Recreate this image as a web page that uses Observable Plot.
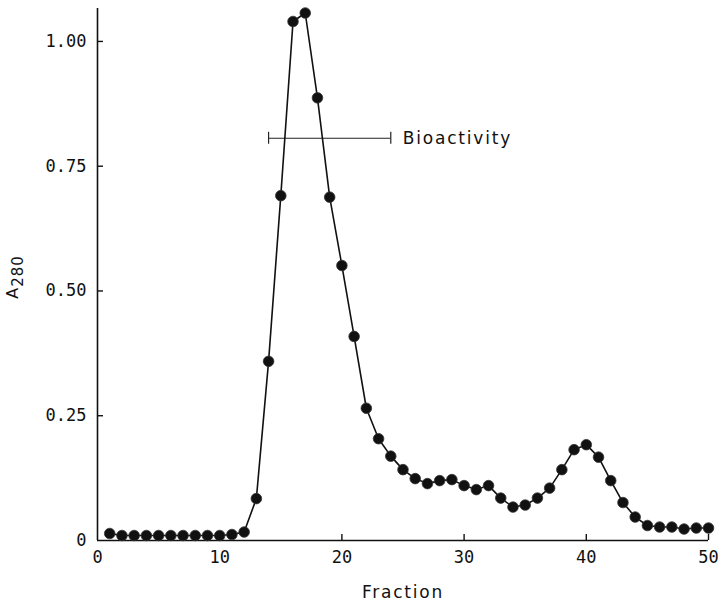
<!DOCTYPE html>
<html>
<head>
<meta charset="utf-8">
<script src="https://cdn.jsdelivr.net/npm/d3@7"></script>
<script src="https://cdn.jsdelivr.net/npm/@observablehq/plot@0.6"></script>
<style>
  html, body { margin: 0; padding: 0; background: #fff; }
  #chart svg { display: block; }
</style>
</head>
<body>
<div id="chart"></div>
<script>
const fractions = d3.range(1, 51);
const absorbance = [0.014, 0.010, 0.010, 0.010, 0.010, 0.010, 0.010, 0.010, 0.010, 0.010,
  0.012, 0.017, 0.084, 0.359, 0.691, 1.040, 1.057, 0.887, 0.688, 0.551,
  0.409, 0.265, 0.204, 0.169, 0.142, 0.124, 0.114, 0.120, 0.122, 0.110,
  0.102, 0.110, 0.085, 0.067, 0.071, 0.085, 0.105, 0.142, 0.182, 0.192,
  0.167, 0.120, 0.076, 0.047, 0.030, 0.027, 0.027, 0.023, 0.025, 0.025];
const xTicks = [0, 10, 20, 30, 40, 50];
const yTicks = [0, 0.25, 0.5, 0.75, 1.0];
const yTickLabels = ["0", "0.25", "0.50", "0.75", "1.00"];
const bioRange = [14, 24];
const bioLevel = 0.806;
const bioLabel = "Bioactivity";
const xLabel = "Fraction";

const data = fractions.map((f, i) => ({fraction: f, a280: absorbance[i]}));
const bioBar = [{x1: bioRange[0], x2: bioRange[1], y: bioLevel}];
const bioCaps = bioRange.map(x => ({x, y1: bioLevel - 0.012, y2: bioLevel + 0.012}));

const mono = "DejaVu Sans Mono";
const sans = "DejaVu Sans";

const plot = Plot.plot({
  width: 718,
  height: 604,
  marginLeft: 97,
  marginRight: 10,
  marginTop: 8,
  marginBottom: 64,
  style: {background: "#fff", color: "#111", fontFamily: mono},
  x: {domain: [0, 50]},
  y: {domain: [0, 1.066]},
  marks: [
    Plot.ruleX([0], {stroke: "#111", strokeWidth: 1.6}),
    Plot.ruleY([0], {stroke: "#111", strokeWidth: 1.6}),
    Plot.axisX({ticks: xTicks, tickSize: 0, tickPadding: 10, label: null, fontSize: 17, fontFamily: mono}),
    Plot.axisX({ticks: xTicks.slice(1), tickSize: 6, dy: -6, text: null, label: null, stroke: "#111", strokeWidth: 1.4}),
    Plot.axisY({ticks: yTicks, tickFormat: (d) => yTickLabels[yTicks.indexOf(d)], tickSize: 0, tickPadding: 11, label: null, fontSize: 17, fontFamily: mono}),
    Plot.axisY({ticks: yTicks.slice(1), tickSize: 6, dx: 6, text: null, label: null, stroke: "#111", strokeWidth: 1.4}),
    Plot.ruleY(bioBar, {x1: "x1", x2: "x2", y: "y", stroke: "#222", strokeWidth: 1.2}),
    Plot.ruleX(bioCaps, {x: "x", y1: "y1", y2: "y2", stroke: "#222", strokeWidth: 1.2}),
    Plot.text(bioBar, {x: "x2", y: "y", text: () => bioLabel, textAnchor: "start", dx: 12, fontSize: 17, fontFamily: sans, fill: "#111"}),
    Plot.line(data, {x: "fraction", y: "a280", stroke: "#111", strokeWidth: 1.6}),
    Plot.dot(data, {x: "fraction", y: "a280", r: 5.3, fill: "#111", stroke: "#333", strokeWidth: 0.8}),
    Plot.text([xLabel], {frameAnchor: "bottom", dy: 57, text: d => d, fontSize: 17, fontFamily: sans, fill: "#111"})
  ]
});

const svg = d3.select(plot);
svg.selectAll("text").filter(function() { return this.textContent === bioLabel || this.textContent === xLabel; })
  .style("letter-spacing", "1.8px");

const yl = svg.append("text")
  .attr("transform", "translate(18,277) rotate(-90)")
  .attr("text-anchor", "middle")
  .attr("font-family", sans)
  .attr("font-size", 16)
  .attr("fill", "#111")
  .style("letter-spacing", "1px");
yl.append("tspan").text("A");
yl.append("tspan").attr("dy", 5).attr("font-size", 15).text("280");

document.getElementById("chart").appendChild(plot);
</script>
</body>
</html>
